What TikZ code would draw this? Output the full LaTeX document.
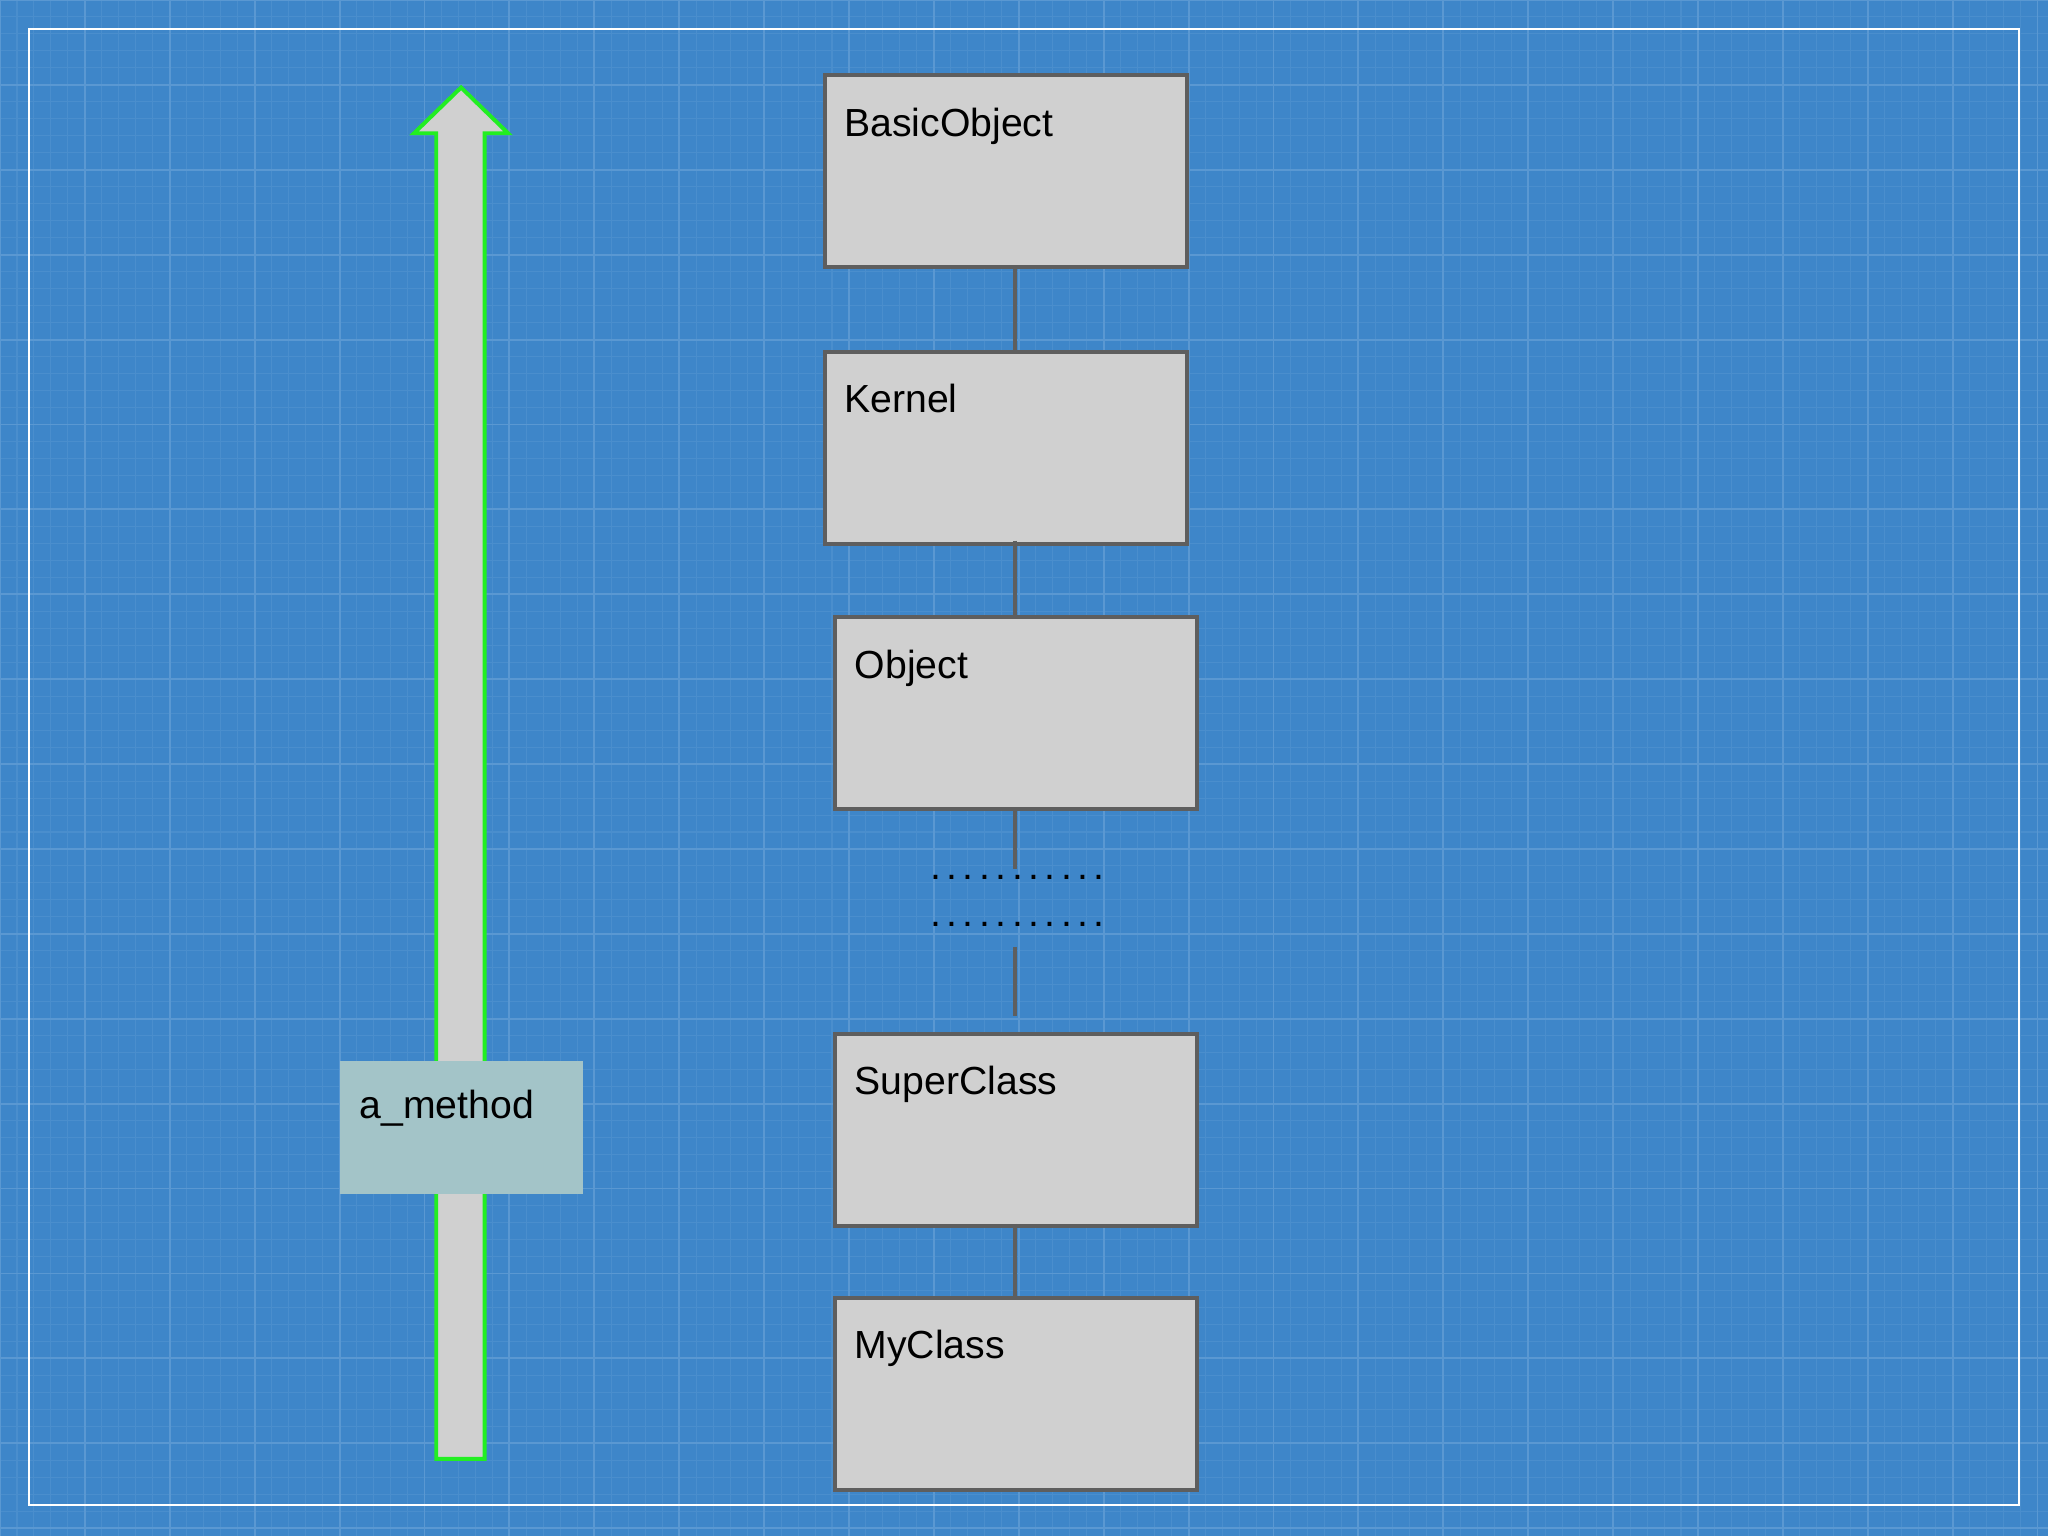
\documentclass[tikz,border=0pt]{standalone}
\usepackage{fontspec}
\setmainfont{Liberation Sans}
\usetikzlibrary{calc}
\definecolor{bg}{HTML}{3E86C9}
\definecolor{gminor}{HTML}{4A8ECD}
\definecolor{gmajor}{HTML}{5A98D2}
\definecolor{boxfill}{HTML}{D0D0D0}
\definecolor{boxline}{HTML}{5E5E5E}
\definecolor{mfill}{HTML}{A3C4C8}
\definecolor{agreen}{HTML}{22EE22}
\newcommand{\sdots}{.\kern2.1pt.\kern2.1pt.\kern2.1pt.\kern2.1pt.\kern2.1pt.\kern2.1pt.\kern2.1pt.\kern2.1pt.\kern2.1pt.\kern2.1pt.}
\tikzset{
 classbox/.style={draw=boxline, line width=1.5pt, fill=boxfill, anchor=north west, minimum width=138.5pt, minimum height=73.5pt, inner sep=0pt},
 lbl/.style={anchor=north west, font=\fontsize{15}{17}\selectfont, inner sep=0pt, text=black},
 link/.style={draw=boxline, line width=1.5pt}
}
\begin{document}
\begin{tikzpicture}[x=0.5pt,y=-0.5pt]
\useasboundingbox (0,0) rectangle (1568,1176);
\fill[bg] (0,0) rectangle (1568,1176);
\foreach \i in {0,13,...,1568} \draw[gminor, line width=0.4pt] (\i,0) -- (\i,1176);
\foreach \i in {0,13,...,1176} \draw[gminor, line width=0.4pt] (0,\i) -- (1568,\i);
\foreach \i in {0,65,...,1568} \draw[gmajor, line width=0.7pt] (\i,0) -- (\i,1176);
\foreach \i in {0,65,...,1176} \draw[gmajor, line width=0.7pt] (0,\i) -- (1568,\i);
\draw[white, line width=0.8pt] (22,22) rectangle (1546,1152);

% arrow
\draw[agreen, line width=1.5pt, fill=boxfill] (334,1117) -- (371,1117) -- (371,102) -- (389,102) -- (353,67) -- (317,102) -- (334,102) -- cycle;
\fill[mfill] (260,812) rectangle (446,914);
\node[lbl] (am) at (275,834) {a\_method};

\node[classbox] (b1) at (630,56) {};
\node[classbox] (b2) at (630,268) {};
\node[classbox] (b3) at (638,471) {};
\node[classbox] (b4) at (638,790) {};
\node[classbox] (b5) at (638,992) {};
\node[lbl] (t1) at (646,82) {BasicObject};
\node[lbl] (t2) at (646,294) {Kernel};
\node[lbl] (t3) at (654,497) {Object};
\node[lbl] (t4) at (654,816) {SuperClass};
\node[lbl] (t5) at (654,1018) {MyClass};

\coordinate (c1) at (777,665);
\coordinate (c2) at (777,725);
\coordinate (c3) at (777,778);
\draw[link] (777,203) -- (777,268);
\draw[link] (777,414) -- (777,471);
\draw[link] (777,618) -- (c1);
\draw[link] (c2) -- (c3);
\draw[link] (777,937) -- (777,992);
\node[font=\fontsize{15}{16}\selectfont, inner sep=0pt] (d1) at (779,672) {\sdots};
\node[font=\fontsize{15}{16}\selectfont, inner sep=0pt] (d2) at (779,708) {\sdots};
\end{tikzpicture}
\end{document}
